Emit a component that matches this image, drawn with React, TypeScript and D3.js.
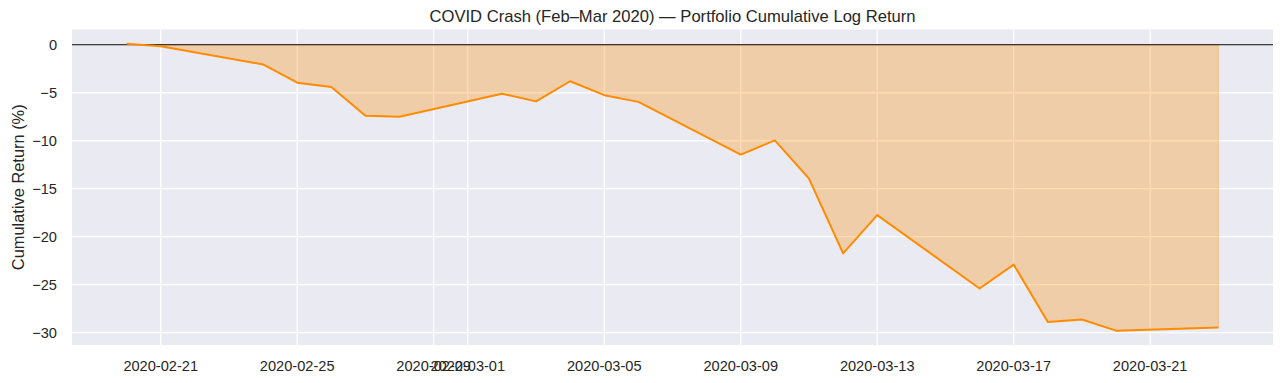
import React from "react";
import * as d3 from "d3";

const dates = [
  "2020-02-20", "2020-02-21", "2020-02-24", "2020-02-25", "2020-02-26", "2020-02-27", "2020-02-28",
  "2020-03-02", "2020-03-03", "2020-03-04", "2020-03-05", "2020-03-06",
  "2020-03-09", "2020-03-10", "2020-03-11", "2020-03-12", "2020-03-13",
  "2020-03-16", "2020-03-17", "2020-03-18", "2020-03-19", "2020-03-20", "2020-03-23",
];
const cumReturn = [
  0.1, -0.15, -2.05, -3.95, -4.4, -7.4, -7.5,
  -5.1, -5.9, -3.8, -5.25, -5.95,
  -11.45, -9.97, -13.95, -21.75, -17.76,
  -25.4, -22.92, -28.9, -28.63, -29.8, -29.46,
];
const xTickLabels = [
  "2020-02-21", "2020-02-25", "2020-02-29", "2020-03-01", "2020-03-05",
  "2020-03-09", "2020-03-13", "2020-03-17", "2020-03-21",
];
const yTickValues = [0, -5, -10, -15, -20, -25, -30];
const title = "COVID Crash (Feb\u2013Mar 2020) \u2014 Portfolio Cumulative Log Return";
const yLabel = "Cumulative Return (%)";

const W = 1284;
const H = 383;
const M = { left: 72, right: 11, top: 29.5, bottom: 38 };
const FONT = "'Liberation Sans', Arial, sans-serif";
const TEXT = "#262626";

export default function App() {
  const parse = d3.utcParse("%Y-%m-%d");
  const pts = dates.map((d, i) => ({ date: parse(d) as Date, v: cumReturn[i] }));
  const t0 = +pts[0].date;
  const t1 = +pts[pts.length - 1].date;
  const tp = (t1 - t0) * 0.05;
  const x = d3.scaleUtc().domain([new Date(t0 - tp), new Date(t1 + tp)]).range([M.left, W - M.right]);
  const vMin = Math.min(0, d3.min(cumReturn) as number);
  const vMax = Math.max(0, d3.max(cumReturn) as number);
  const vp = (vMax - vMin) * 0.05;
  const y = d3.scaleLinear().domain([vMin - vp, vMax + vp]).range([H - M.bottom, M.top]);

  const line = d3.line<{ date: Date; v: number }>().x((d) => x(d.date)).y((d) => y(d.v));
  const area = d3
    .area<{ date: Date; v: number }>()
    .x((d) => x(d.date))
    .y0(() => y(0))
    .y1((d) => y(d.v));

  const xTicks = xTickLabels.map((s) => parse(s) as Date);
  const fmtY = (v: number) => (v < 0 ? "\u2212" + Math.abs(v) : String(v));
  const plotW = W - M.left - M.right;
  const plotH = H - M.top - M.bottom;

  return (
    <svg width={W} height={H} style={{ position: "absolute", left: 0, top: 0 }}>
      <rect x={0} y={0} width={W} height={H} fill="#ffffff" />
      <rect x={M.left} y={M.top} width={plotW} height={plotH} fill="#EAEAF2" />
      <g>
        {xTicks.map((d, i) => (
          <line key={"gx" + i} x1={x(d)} x2={x(d)} y1={M.top} y2={M.top + plotH} stroke="#ffffff" strokeWidth={1.3} />
        ))}
        {yTickValues.map((v, i) => (
          <line key={"gy" + i} x1={M.left} x2={M.left + plotW} y1={y(v)} y2={y(v)} stroke="#ffffff" strokeWidth={1.3} />
        ))}
      </g>
      <path d={area(pts) || ""} fill="#FF8C00" fillOpacity={0.3} stroke="#FF8C00" strokeOpacity={0.3} strokeWidth={1} />
      <line x1={M.left} x2={M.left + plotW} y1={y(0)} y2={y(0)} stroke="#000000" strokeWidth={1.1} />
      <path d={line(pts) || ""} fill="none" stroke="#FF8C00" strokeWidth={2} strokeLinejoin="round" />
      <g fontFamily={FONT} fontSize={14.6} fill={TEXT}>
        {xTicks.map((d, i) => (
          <text key={"tx" + i} x={x(d)} y={M.top + plotH + 25.5} textAnchor="middle">
            {xTickLabels[i]}
          </text>
        ))}
        {yTickValues.map((v, i) => (
          <text key={"ty" + i} x={57} y={y(v)} textAnchor="end" dominantBaseline="central">
            {fmtY(v)}
          </text>
        ))}
      </g>
      <text x={M.left + plotW / 2} y={22} textAnchor="middle" fontFamily={FONT} fontSize={16.6} fill={TEXT}>
        {title}
      </text>
      <text
        transform={`translate(23.5, ${M.top + plotH / 2}) rotate(-90)`}
        textAnchor="middle"
        fontFamily={FONT}
        fontSize={16.4}
        fill={TEXT}
      >
        {yLabel}
      </text>
    </svg>
  );
}
